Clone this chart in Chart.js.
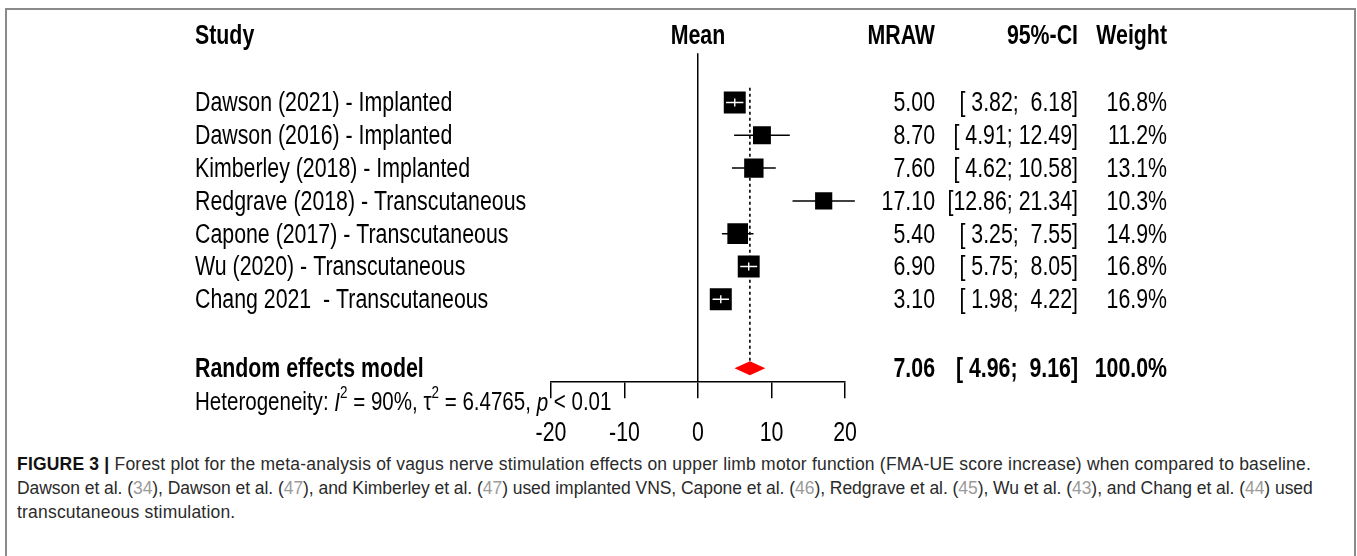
<!DOCTYPE html>
<html>
<head>
<meta charset="utf-8">
<script src="https://cdn.jsdelivr.net/npm/chart.js@4.4.1/dist/chart.umd.min.js"></script>
<style>
    html, body { margin: 0; padding: 0; background: #fff; }
    body { width: 1357px; height: 556px; position: relative; overflow: hidden; }
    #frame { position: absolute; left: 5px; top: 8px; width: 1351px; height: 620px; border: 2px solid #8a8a8a; box-sizing: border-box; }
    #wrap { position: absolute; left: 0; top: 0; width: 1357px; height: 450px; }
    #caption { position: absolute; left: 17px; top: 452px; width: 1335px; font-family: "Liberation Sans", Arial, sans-serif; font-size: 17.5px; letter-spacing: 0.2px; line-height: 24px; color: #2a2a2a; white-space: nowrap; }
    #caption b { font-weight: bold; color: #111; }
    #caption .tight { letter-spacing: -0.05px; }
    .ref { color: #9a9a9a; }
</style>
</head>
<body>
<div id="frame"></div>
<div id="wrap"><canvas id="forestChart" width="1357" height="450"></canvas></div>
<div id="caption">
    <b>FIGURE 3 |</b> Forest plot for the meta-analysis of vagus nerve stimulation effects on upper limb motor function (FMA-UE score increase) when compared to baseline.<br>
    <span class="tight">Dawson et al. (<span class="ref">34</span>), Dawson et al. (<span class="ref">47</span>), and Kimberley et al. (<span class="ref">47</span>) used implanted VNS, Capone et al. (<span class="ref">46</span>), Redgrave et al. (<span class="ref">45</span>), Wu et al. (<span class="ref">43</span>), and Chang et al. (<span class="ref">44</span>) used</span><br>
    transcutaneous stimulation.
</div>
<script>
// study data
const studies = [
    'Dawson (2021) - Implanted',
    'Dawson (2016) - Implanted',
    'Kimberley (2018) - Implanted',
    'Redgrave (2018) - Transcutaneous',
    'Capone (2017) - Transcutaneous',
    'Wu (2020) - Transcutaneous',
    'Chang 2021  - Transcutaneous'
];
const means = [5.00, 8.70, 7.60, 17.10, 5.40, 6.90, 3.10];
const ciLow = [3.82, 4.91, 4.62, 12.86, 3.25, 5.75, 1.98];
const ciHigh = [6.18, 12.49, 10.58, 21.34, 7.55, 8.05, 4.22];
const weights = [16.8, 11.2, 13.1, 10.3, 14.9, 16.8, 16.9];

const summaryLabel = 'Random effects model';
const summaryMean = 7.06;
const summaryLow = 4.96;
const summaryHigh = 9.16;
const summaryWeight = 100.0;

const xTicks = [-20, -10, 0, 10, 20];
const hetI2 = '90%';
const hetTau2 = '6.4765';
const hetP = '< 0.01';

// layout
const FONT = '"Liberation Sans", Arial, sans-serif';
const SX = 0.79;          // horizontal squeeze, mimics the narrow font
const SUMMARY_ROW = 9.1;
const COL_STUDY = 195, COL_MEAN = 935, COL_CI = 1078, COL_W = 1167;

function fmtCI(lo, hi) {
    return '[' + lo.toFixed(2).padStart(5, ' ') + '; ' + hi.toFixed(2).padStart(5, ' ') + ']';
}

function narrowText(ctx, str, x, y, align, font) {
    ctx.save();
    ctx.font = font;
    const w = ctx.measureText(str).width * SX;
    let x0 = x;
    if (align === 'right') x0 = x - w;
    if (align === 'center') x0 = x - w / 2;
    ctx.translate(x0, y);
    ctx.scale(SX, 1);
    ctx.textAlign = 'left';
    ctx.textBaseline = 'middle';
    ctx.fillStyle = '#000';
    ctx.fillText(str, 0, 0);
    ctx.restore();
    return w;
}

const forestPlugin = {
    id: 'forest',
    beforeDatasetsDraw(chart) {
        const ctx = chart.ctx;
        const xs = chart.scales.x, ys = chart.scales.y;
        ctx.save();
        // dotted line at the pooled estimate
        ctx.strokeStyle = '#000';
        ctx.lineWidth = 1.6;
        ctx.setLineDash([3, 3]);
        ctx.beginPath();
        ctx.moveTo(xs.getPixelForValue(summaryMean), ys.getPixelForValue(0.55));
        ctx.lineTo(xs.getPixelForValue(summaryMean), ys.getPixelForValue(SUMMARY_ROW) - 7);
        ctx.stroke();
        ctx.setLineDash([]);
        // confidence intervals
        ctx.lineWidth = 1.5;
        means.forEach((m, i) => {
            const y = ys.getPixelForValue(i + 1);
            ctx.beginPath();
            ctx.moveTo(xs.getPixelForValue(ciLow[i]), y);
            ctx.lineTo(xs.getPixelForValue(ciHigh[i]), y);
            ctx.stroke();
        });
        ctx.restore();
    },
    afterDatasetsDraw(chart) {
        const ctx = chart.ctx;
        const xs = chart.scales.x, ys = chart.scales.y;
        ctx.save();
        // white CI inside boxes that are wider than the interval
        ctx.strokeStyle = '#fff';
        ctx.lineWidth = 1.4;
        means.forEach((m, i) => {
            const half = boxSide(weights[i]) / 2;
            const cx = xs.getPixelForValue(m), y = ys.getPixelForValue(i + 1);
            const x1 = xs.getPixelForValue(ciLow[i]), x2 = xs.getPixelForValue(ciHigh[i]);
            if (x1 > cx - half && x2 < cx + half) {
                ctx.beginPath();
                ctx.moveTo(x1, y); ctx.lineTo(x2, y);
                ctx.moveTo(cx, y - 4); ctx.lineTo(cx, y + 4);
                ctx.stroke();
            }
        });
        // diamond for the random effects model
        const yS = ys.getPixelForValue(SUMMARY_ROW);
        ctx.fillStyle = '#ff0000';
        ctx.beginPath();
        ctx.moveTo(xs.getPixelForValue(summaryLow), yS);
        ctx.lineTo(xs.getPixelForValue(summaryMean), yS - 7);
        ctx.lineTo(xs.getPixelForValue(summaryHigh), yS);
        ctx.lineTo(xs.getPixelForValue(summaryMean), yS + 7);
        ctx.closePath();
        ctx.fill();
        ctx.restore();
    },
    afterDraw(chart) {
        const ctx = chart.ctx;
        const xs = chart.scales.x, ys = chart.scales.y;
        const reg = '27px ' + FONT, bold = 'bold 27px ' + FONT;

        // headers
        const yH = ys.getPixelForValue(-1);
        narrowText(ctx, 'Study', COL_STUDY, yH, 'left', bold);
        narrowText(ctx, 'Mean', xs.getPixelForValue(0), yH, 'center', bold);
        narrowText(ctx, 'MRAW', COL_MEAN, yH, 'right', bold);
        narrowText(ctx, '95%-CI', COL_CI, yH, 'right', bold);
        narrowText(ctx, 'Weight', COL_W, yH, 'right', bold);

        // study rows
        studies.forEach((s, i) => {
            const y = ys.getPixelForValue(i + 1) + 1.5;
            narrowText(ctx, s, COL_STUDY, y, 'left', reg);
            narrowText(ctx, means[i].toFixed(2), COL_MEAN, y, 'right', reg);
            narrowText(ctx, fmtCI(ciLow[i], ciHigh[i]), COL_CI, y, 'right', reg);
            narrowText(ctx, weights[i].toFixed(1) + '%', COL_W, y, 'right', reg);
        });

        // summary row
        const yS = ys.getPixelForValue(SUMMARY_ROW) + 1;
        narrowText(ctx, summaryLabel, COL_STUDY, yS, 'left', bold);
        narrowText(ctx, summaryMean.toFixed(2), COL_MEAN, yS, 'right', bold);
        narrowText(ctx, fmtCI(summaryLow, summaryHigh), COL_CI, yS, 'right', bold);
        narrowText(ctx, summaryWeight.toFixed(1) + '%', COL_W, yS, 'right', bold);

        // heterogeneity line
        const yHet = chart.chartArea.bottom + 22;
        const het = [
            ['Heterogeneity: ', '26px ' + FONT, 0],
            ['I', 'italic 26px ' + FONT, 0],
            ['2', '17px ' + FONT, -10],
            [' = ' + hetI2 + ', \u03c4', '26px ' + FONT, 0],
            ['2', '17px ' + FONT, -10],
            [' = ' + hetTau2 + ', ', '26px ' + FONT, 0],
            ['p', 'italic 26px ' + FONT, 0],
            [' ' + hetP, '26px ' + FONT, 0]
        ];
        let hx = COL_STUDY;
        het.forEach(([t, f, dy]) => { hx += narrowText(ctx, t, hx, yHet + dy, 'left', f); });

        // x tick labels
        xs.ticks.forEach(t => {
            narrowText(ctx, String(t.value), xs.getPixelForValue(t.value), chart.chartArea.bottom + 52, 'center', reg);
        });
    }
};

function boxSide(w) {
    return 22 * Math.sqrt(w / 16.9);
}

const canvas = document.getElementById('forestChart');
const ctx = canvas.getContext('2d');

new Chart(ctx, {
    type: 'scatter',
    data: {
        datasets: [{
            data: means.map((m, i) => ({ x: m, y: i + 1 })),
            pointStyle: 'rect',
            pointRadius: weights.map(w => boxSide(w) / 2 / Math.SQRT1_2),
            pointHoverRadius: weights.map(w => boxSide(w) / 2 / Math.SQRT1_2),
            backgroundColor: '#000',
            borderWidth: 0
        }]
    },
    options: {
        responsive: false,
        animation: false,
        events: [],
        layout: { padding: { left: 551, right: 512, top: 53.3, bottom: 51.7 } },
        plugins: { legend: { display: false }, tooltip: { enabled: false } },
        scales: {
            x: {
                type: 'linear',
                min: -20,
                max: 20,
                afterBuildTicks: s => { s.ticks = xTicks.map(v => ({ value: v })); },
                ticks: { display: false },
                grid: {
                    color: c => (c.tick && c.tick.value === 0) ? '#000' : 'rgba(0,0,0,0)',
                    lineWidth: 1.5,
                    tickColor: '#000',
                    tickLength: 17,
                    drawTicks: true
                },
                border: { display: true, color: '#000', width: 1.5 }
            },
            y: {
                type: 'linear',
                display: false,
                reverse: true,
                min: -0.5,
                max: 9.5
            }
        }
    },
    plugins: [forestPlugin]
});
</script>
</body>
</html>
